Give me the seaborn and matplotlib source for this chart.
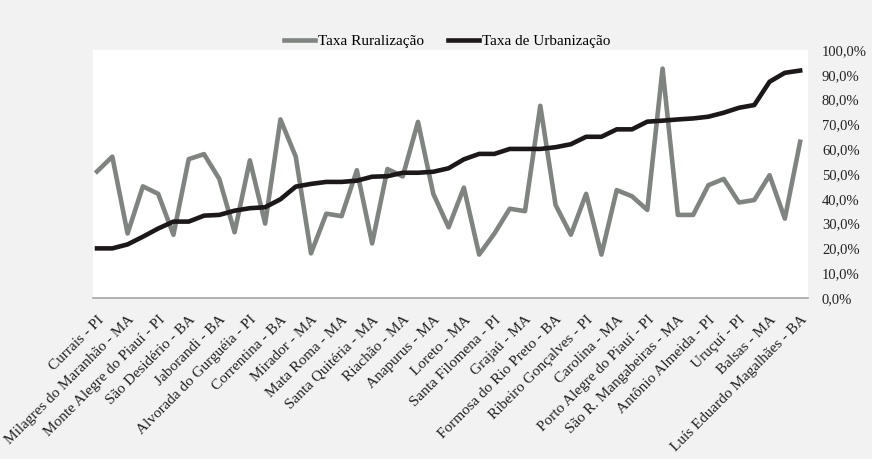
import numpy as np
import pandas as pd
import seaborn as sns
import matplotlib.pyplot as plt
from matplotlib.ticker import FuncFormatter
from matplotlib.lines import Line2D
from matplotlib.transforms import ScaledTranslation

# labels shown every other municipality (the chart hides the rest)
tick_labels = [
    "Currais - PI", "Milagres do Maranhão - MA", "Monte Alegre do Piauí - PI",
    "São Desidério - BA", "Jaborandi - BA", "Alvorada do Gurguéia - PI",
    "Correntina - BA", "Mirador - MA", "Mata Roma - MA", "Santa Quitéria - MA",
    "Riachão - MA", "Anapurus - MA", "Loreto - MA", "Santa Filomena - PI",
    "Grajaú - MA", "Formosa do Rio Preto - BA", "Ribeiro Gonçalves - PI",
    "Carolina - MA", "Porto Alegre do Piauí - PI", "São R. Mangabeiras - MA",
    "Antônio Almeida - PI", "Uruçuí - PI", "Balsas - MA",
    "Luís Eduardo Magalhães - BA",
]

rural = [51, 57, 26, 45, 42, 25.5, 56, 58, 48, 26.5, 55.5, 30, 72, 57, 18,
         34, 33, 51.5, 22, 52, 49, 71, 42, 28.5, 44.5, 17.5, 26, 36, 35,
         77.5, 37.5, 25.5, 42, 17.5, 43.5, 41, 35.5, 92.5, 33.5, 33.5, 45.5,
         48, 38.5, 39.5, 49.5, 32, 63]

urban = [20, 20, 21.6, 24.7, 28, 30.8, 30.8, 33.2, 33.5, 35.2, 36.2, 36.6,
         39.8, 44.9, 46, 46.8, 46.8, 47.3, 48.9, 49.1, 50.5, 50.5, 50.9, 52.3,
         55.9, 58.1, 58.1, 60.1, 60.1, 60.1, 60.8, 62, 65, 65, 68, 68, 71.1,
         71.5, 72, 72.4, 73.1, 74.7, 76.7, 77.8, 87.2, 90.8, 91.7]

series_names = ["Taxa Ruralização", "Taxa de Urbanização"]
colors = ["#7f8480", "#1c1819"]

n = len(rural)
df = pd.DataFrame({
    "idx": list(range(n)) * 2,
    "valor": rural + urban,
    "serie": [series_names[0]] * n + [series_names[1]] * n,
})

plt.rcParams["font.family"] = ["Liberation Serif", "DejaVu Serif"]

fig = plt.figure(figsize=(8.72, 4.59), dpi=100, facecolor="#f2f2f2")
ax = fig.add_axes([0.1067, 0.3508, 0.82, 0.5403])
ax.set_facecolor("white")

sns.lineplot(data=df, x="idx", y="valor", hue="serie", palette=colors,
             linewidth=3.3, legend=False, ax=ax)

ax.set_xlim(-0.26, n - 1 + 0.52)
ax.set_ylim(0, 100)
ax.set_xticks(np.arange(0, n, 2))
ax.set_xticklabels(tick_labels, rotation=45, ha="right",
                   rotation_mode="anchor", fontsize=11, color="#222222")
shift = ScaledTranslation(6 / 72, 0, fig.dpi_scale_trans)
for lab in ax.get_xticklabels():
    lab.set_transform(lab.get_transform() + shift)

ax.yaxis.tick_right()
ax.set_yticks(np.arange(0, 101, 10))
ax.yaxis.set_major_formatter(FuncFormatter(lambda v, p: f"{v:.1f}%".replace(".", ",")))
ax.tick_params(axis="y", length=0, pad=10, labelsize=10.5, labelcolor="#222222")
ax.tick_params(axis="x", length=0, pad=11)
ax.set_xlabel("")
ax.set_ylabel("")

for s in ["top", "left", "right"]:
    ax.spines[s].set_visible(False)
ax.spines["bottom"].set_color("#a6a6a6")
ax.spines["bottom"].set_linewidth(1.2)

handles = [Line2D([], [], color=c, linewidth=3.3) for c in colors]
ax.legend(handles, series_names, loc="center", bbox_to_anchor=(0.495, 1.035),
          ncol=2, frameon=False, fontsize=11, handlelength=2.0,
          columnspacing=1.6, handletextpad=0.2)

fig.savefig("out.png", dpi=100, facecolor=fig.get_facecolor())
